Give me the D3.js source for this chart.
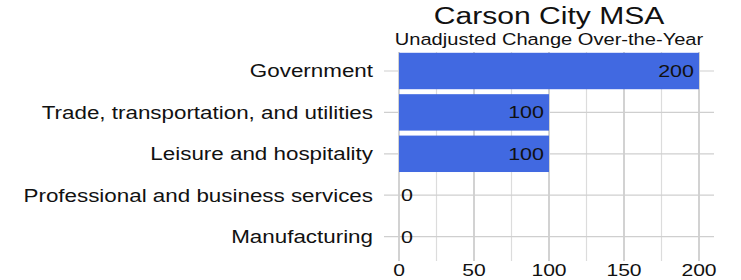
<!DOCTYPE html>
<html>
<head>
<meta charset="utf-8">
<script src="https://cdn.jsdelivr.net/npm/d3@7"></script>
<style>
  body { margin: 0; background: #fff; }
  text { font-family: "Liberation Sans", Arial, sans-serif; fill: #111; }
</style>
</head>
<body>
<svg id="chart" width="741" height="280"></svg>
<script>
// data
const categories = ["Government", "Trade, transportation, and utilities", "Leisure and hospitality",
    "Professional and business services", "Manufacturing"];
const changes = [200, 100, 100, 0, 0];
const xTicks = [0, 50, 100, 150, 200];
const xMinorTicks = [25, 75, 125, 175];

const titleText = "Carson City MSA";
const subtitleText = "Unadjusted Change Over-the-Year";

// text in the picture is stretched sideways
const STRETCH = 1.28;

const svg = d3.select("#chart");

const x = d3.scaleLinear().domain([0, 200]).range([399, 699]);
const y = d3.scaleBand().domain(categories).range([50.3, 257.3])
    .paddingInner(0.12).paddingOuter(0.06);

const gridTop = 52, gridBottom = 261;

function stretchText(sel, px, py) {
    return sel.attr("transform", `translate(${px},${py}) scale(${STRETCH},1)`);
}

// minor vertical grid
svg.append("g").selectAll("line")
    .data(xMinorTicks)
    .join("line")
    .attr("x1", d => x(d)).attr("x2", d => x(d))
    .attr("y1", gridTop).attr("y2", gridBottom)
    .attr("stroke", "#dcdcdc").attr("stroke-width", 1.2);

// major vertical grid
svg.append("g").selectAll("line")
    .data(xTicks)
    .join("line")
    .attr("x1", d => x(d)).attr("x2", d => x(d))
    .attr("y1", gridTop).attr("y2", gridBottom)
    .attr("stroke", "#b4b4b4").attr("stroke-width", 1.2);

// horizontal grid at categories
svg.append("g").selectAll("line")
    .data(categories)
    .join("line")
    .attr("x1", 384).attr("x2", 714)
    .attr("y1", d => y(d) + y.bandwidth() / 2)
    .attr("y2", d => y(d) + y.bandwidth() / 2)
    .attr("stroke", "#cfcfcf").attr("stroke-width", 1.2);

// bars
const rows = categories.map((c, i) => ({ cat: c, val: changes[i] }));
svg.append("g").selectAll("rect")
    .data(rows)
    .join("rect")
    .attr("x", x(0))
    .attr("y", d => y(d.cat))
    .attr("width", d => x(d.val) - x(0))
    .attr("height", y.bandwidth())
    .attr("fill", "#4169E1");

// value labels
svg.append("g").selectAll("text")
    .data(rows)
    .join("text")
    .each(function(d) {
        const inside = d.val > 20;
        const px = inside ? x(d.val) - 5 : x(d.val) + 2;
        stretchText(d3.select(this), px, y(d.cat) + y.bandwidth() / 2);
        d3.select(this).attr("text-anchor", inside ? "end" : "start");
    })
    .attr("dy", "0.36em")
    .attr("font-size", 16.8)
    .text(d => d.val);

// category labels
svg.append("g").selectAll("text")
    .data(categories)
    .join("text")
    .each(function(d) {
        stretchText(d3.select(this), 373, y(d) + y.bandwidth() / 2);
    })
    .attr("text-anchor", "end")
    .attr("dy", "0.36em")
    .attr("font-size", 17.5)
    .text(d => d);

// x tick labels
svg.append("g").selectAll("text")
    .data(xTicks)
    .join("text")
    .each(function(d) { stretchText(d3.select(this), x(d), 276); })
    .attr("text-anchor", "middle")
    .attr("font-size", 16.5)
    .text(d => d);

// title + subtitle
stretchText(svg.append("text"), 549, 24)
    .attr("text-anchor", "middle")
    .attr("font-size", 23.5)
    .text(titleText);

stretchText(svg.append("text"), 549, 45)
    .attr("text-anchor", "middle")
    .attr("font-size", 15.7)
    .text(subtitleText);
</script>
</body>
</html>
